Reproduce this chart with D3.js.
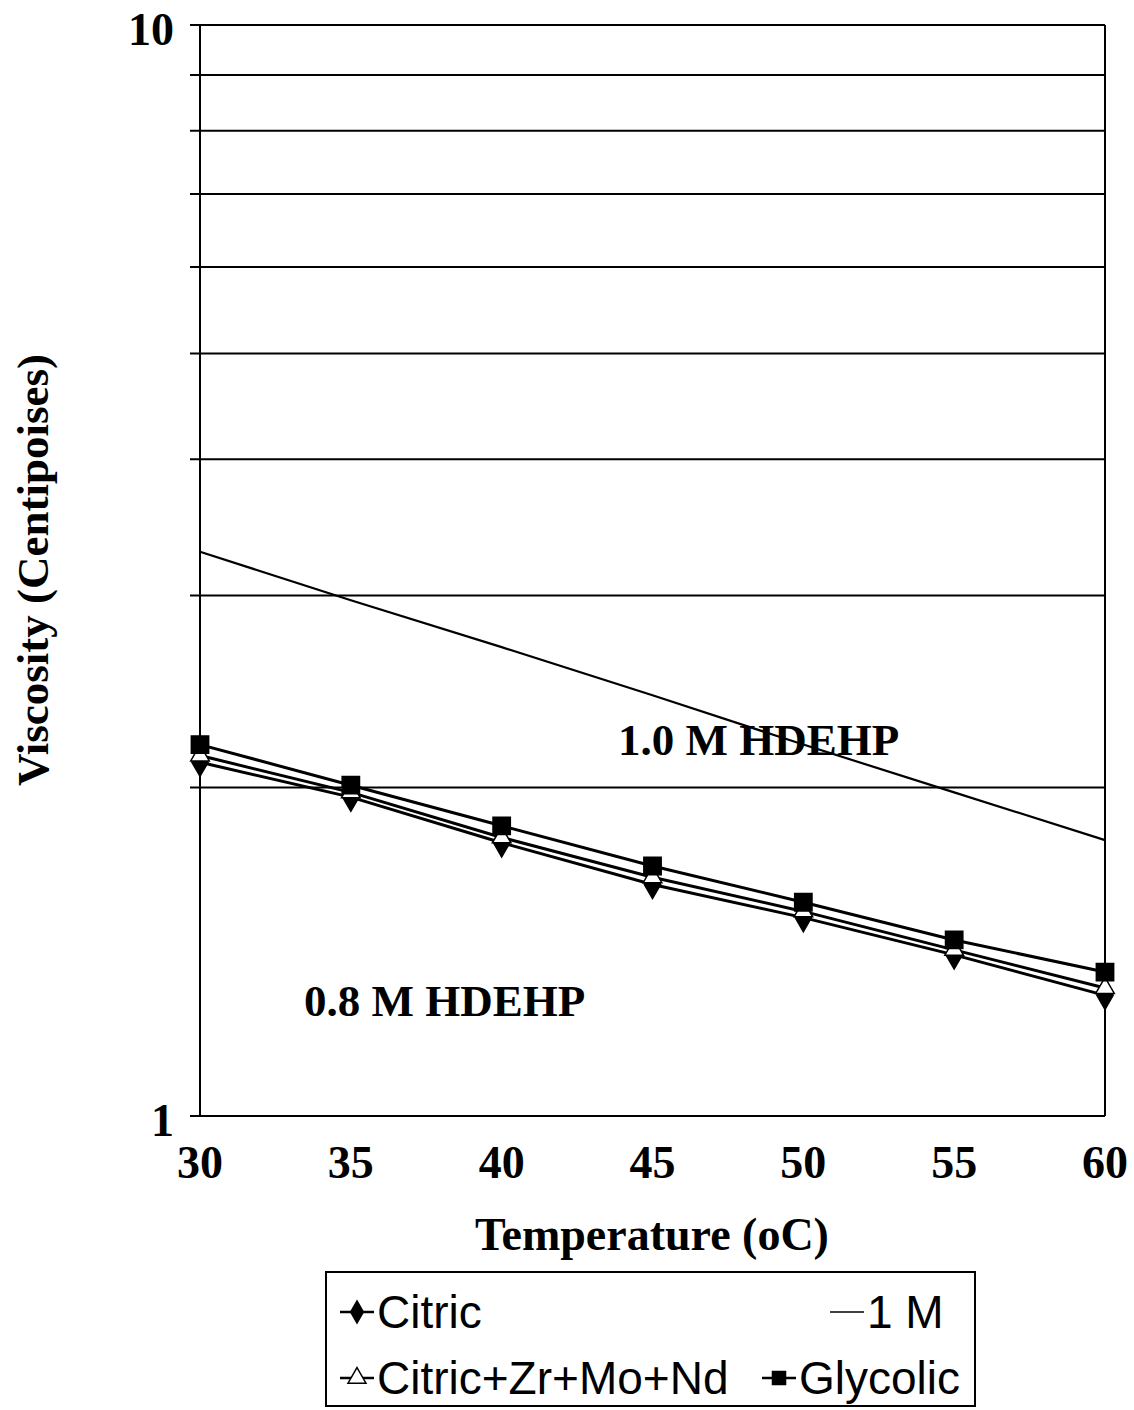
<!DOCTYPE html>
<html>
<head>
<meta charset="utf-8">
<script src="https://cdn.jsdelivr.net/npm/d3@7"></script>
<style>
  body { margin: 0; background: #fff; }
  svg text { fill: #000; }
</style>
</head>
<body>
<svg id="chart" width="1134" height="1410"></svg>
<script>
// temperatures (oC)
let temps = [30, 35, 40, 45, 50, 55, 60];
// viscosity, centipoises
let citric = [2.11, 1.96, 1.78, 1.63, 1.52, 1.405, 1.29];
let citricZrMoNd = [2.14, 1.98, 1.80, 1.655, 1.54, 1.42, 1.31];
let glycolic = [2.19, 2.01, 1.845, 1.695, 1.57, 1.45, 1.355];
let oneM = [3.29, 2.97, 2.69, 2.43, 2.19, 1.98, 1.79];
let yGrid = [1, 2, 3, 4, 5, 6, 7, 8, 9, 10];
let yTickLabels = [1, 10];

let svg = d3.select('#chart');
let plot = { left: 200, right: 1105, top: 25, bottom: 1116 };

let x = d3.scaleLinear().domain([30, 60]).range([plot.left, plot.right]);
let y = d3.scaleLog().domain([1, 10]).range([plot.bottom, plot.top]);

// horizontal grid lines (they poke out a bit left of the axis)
svg.append('g').selectAll('line')
    .data(yGrid)
    .join('line')
        .attr('x1', plot.left - 10)
        .attr('x2', plot.right)
        .attr('y1', d => y(d))
        .attr('y2', d => y(d))
        .attr('stroke', '#000')
        .attr('stroke-width', 2);

// left and right frame
svg.append('line')
    .attr('x1', plot.left).attr('x2', plot.left)
    .attr('y1', plot.top).attr('y2', plot.bottom)
    .attr('stroke', '#000').attr('stroke-width', 2);
svg.append('line')
    .attr('x1', plot.right).attr('x2', plot.right)
    .attr('y1', plot.top).attr('y2', plot.bottom)
    .attr('stroke', '#000').attr('stroke-width', 2);

let serif = '"Liberation Serif", "DejaVu Serif", serif';
let sans = '"Liberation Sans", Arial, sans-serif';

// x tick labels
svg.append('g').selectAll('text')
    .data(temps)
    .join('text')
        .attr('x', d => x(d))
        .attr('y', 1178)
        .attr('text-anchor', 'middle')
        .style('font', `bold 46px ${serif}`)
        .text(d => d);

// y tick labels
svg.append('g').selectAll('text')
    .data(yTickLabels)
    .join('text')
        .attr('x', 174)
        .attr('y', d => y(d) + 20)
        .attr('text-anchor', 'end')
        .style('font', `bold 46px ${serif}`)
        .text(d => d);

// axis titles
svg.append('text')
    .attr('x', 652).attr('y', 1250)
    .attr('text-anchor', 'middle')
    .style('font', `bold 46px ${serif}`)
    .text('Temperature (oC)');
svg.append('text')
    .attr('transform', 'translate(48,570) rotate(-90)')
    .attr('text-anchor', 'middle')
    .style('font', `bold 45px ${serif}`)
    .text('Viscosity (Centipoises)');

let line = d3.line()
    .x((d, i) => x(temps[i]))
    .y(d => y(d));

// 1 M line (no markers)
svg.append('path')
    .attr('d', line(oneM))
    .attr('fill', 'none')
    .attr('stroke', '#000')
    .attr('stroke-width', 2.2);

let diamond = d3.symbol().type(d3.symbolDiamond).size(230);
let triangle = d3.symbol().type(d3.symbolTriangle).size(150);
let square = d3.symbol().type(d3.symbolSquare).size(300);

let series = [
    { values: citric, symbol: diamond, fill: '#000' },
    { values: citricZrMoNd, symbol: triangle, fill: '#fff' },
    { values: glycolic, symbol: square, fill: '#000' },
];

series.forEach(function(s) {
    svg.append('path')
        .attr('d', line(s.values))
        .attr('fill', 'none')
        .attr('stroke', '#000')
        .attr('stroke-width', 3);
});
series.forEach(function(s) {
    svg.append('g').selectAll('path')
        .data(s.values)
        .join('path')
            .attr('d', s.symbol)
            .attr('transform', (d, i) => `translate(${x(temps[i])},${y(d)})`)
            .attr('fill', s.fill)
            .attr('stroke', '#000')
            .attr('stroke-width', 1.5);
});

// annotations
svg.append('text')
    .attr('x', 618).attr('y', 755)
    .style('font', `bold 45px ${serif}`)
    .text('1.0 M HDEHP');
svg.append('text')
    .attr('x', 304).attr('y', 1016)
    .style('font', `bold 45px ${serif}`)
    .text('0.8 M HDEHP');

// legend
let legend = svg.append('g');
legend.append('rect')
    .attr('x', 326).attr('y', 1272)
    .attr('width', 649).attr('height', 134)
    .attr('fill', 'none')
    .attr('stroke', '#000')
    .attr('stroke-width', 2);

let legendItems = [
    { label: 'Citric', x: 340, y: 1312, symbol: diamond, fill: '#000', sw: 2.5 },
    { label: '1 M', x: 830, y: 1312, symbol: null, fill: null, sw: 1.5 },
    { label: 'Citric+Zr+Mo+Nd', x: 340, y: 1378, symbol: triangle, fill: '#fff', sw: 2.5 },
    { label: 'Glycolic', x: 762, y: 1378, symbol: square, fill: '#000', sw: 2.5 },
];
legendItems.forEach(function(it) {
    legend.append('line')
        .attr('x1', it.x).attr('x2', it.x + 34)
        .attr('y1', it.y).attr('y2', it.y)
        .attr('stroke', '#000').attr('stroke-width', it.sw);
    if (it.symbol) {
        legend.append('path')
            .attr('d', it.symbol.size(it.symbol === square ? 170 : 140)())
            .attr('transform', `translate(${it.x + 17},${it.y})`)
            .attr('fill', it.fill)
            .attr('stroke', '#000')
            .attr('stroke-width', 1.5);
    }
    legend.append('text')
        .attr('x', it.x + 37).attr('y', it.y + 16)
        .style('font', `46px ${sans}`)
        .text(it.label);
});
</script>
</body>
</html>
